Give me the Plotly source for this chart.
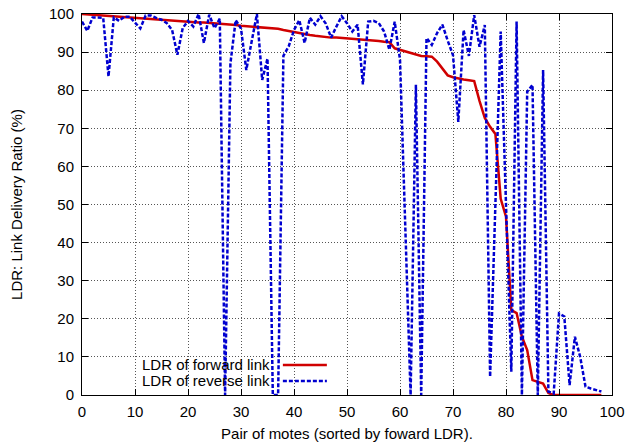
import plotly.graph_objects as go

# Pairs of motes (x) and their forward-link LDR (sorted, %)
pair_idx = list(range(0, 99))
fwd_ldr = [100, 99.9, 99.8, 99.7, 99.6, 99.5, 99.4, 99.3, 99.1, 99.0,
           98.9, 98.8, 98.7, 98.6, 98.5, 98.4, 98.3, 98.2, 98.1, 98.0,
           97.9, 97.9, 97.8, 97.8, 97.7, 97.6, 97.5, 97.4, 97.2, 97.1,
           96.9, 96.8, 96.7, 96.6, 96.5, 96.4, 96.3, 96.1, 95.8, 95.5,
           95.3, 95.0, 94.8, 94.5, 94.3, 94.1, 93.9, 93.8, 93.8, 93.7,
           93.6, 93.5, 93.4, 93.2, 93.1, 93.0, 92.9, 92.7, 92.6, 91.0,
           90.6, 90.1, 89.6, 89.2, 89.0, 88.9, 88.8, 87.5, 85.8, 83.9,
           83.4, 83.0, 82.8, 82.6, 82.4, 77.2, 72.7, 70.4, 68.5, 51.5,
           46.8, 22.3, 21.5, 15.3, 11.8, 3.9, 3.4, 3.0, 0.5, 0,
           0, 0, 0, 0, 0, 0, 0, 0, 0]

# Reverse-link LDR for the same pairs (%)
rev_ldr = [98.0, 95.6, 99.1, 99.1, 99.0, 83.6, 99.1, 98.2, 99.3, 99.3,
           97.6, 96.2, 99.6, 99.6, 99.0, 98.5, 97.6, 95.8, 89.3, 96.3,
           98.2, 96.7, 100, 92.4, 99.8, 96.3, 98.8, 0, 87.0, 98.4,
           96.2, 85.3, 92.7, 100, 82.7, 88.3, 0, 0, 89.0, 91.5,
           95.8, 98.4, 92.4, 99.0, 97.2, 99.4, 97.5, 93.8, 96.7, 99.4,
           97.6, 95.4, 97.2, 81.5, 98.0, 98.2, 97.6, 95.4, 90.6, 98.0,
           88.0, 44.0, 0, 81.4, 0, 93.7, 91.9, 95.0, 97.2, 93.0,
           89.2, 71.7, 95.8, 89.0, 99.7, 91.4, 97.1, 4.8, 50.0, 95.4,
           50.0, 6.1, 98.0, 0, 79.6, 81.4, 0, 85.3, 0.9, 0.4,
           21.4, 20.6, 2.6, 15.3, 10.0, 2.2, 1.7, 1.2, 0.9]

tick_vals = list(range(0, 101, 10))
legend_labels = ["LDR of forward link", "LDR of reverse link"]
x_title = "Pair of motes (sorted by foward LDR)."
y_title = "LDR: Link Delivery Ratio (%)"

RED = "#d00000"
BLUE = "#0000d0"
FONT = "Liberation Sans, Arial, Helvetica, sans-serif"
FS = 15

fig = go.Figure()
fig.add_trace(go.Scatter(x=pair_idx, y=fwd_ldr, mode="lines",
                         line=dict(color=RED, width=2.5),
                         name=legend_labels[0], showlegend=False))
fig.add_trace(go.Scatter(x=pair_idx, y=rev_ldr, mode="lines",
                         line=dict(color=BLUE, width=2.5, dash="4px,2px"),
                         name=legend_labels[1], showlegend=False))

axis_common = dict(
    showline=True, linecolor="black", linewidth=1, mirror="ticks",
    ticks="inside", ticklen=6, tickcolor="black",
    showgrid=True, gridcolor="#555555", griddash="1px,2px", gridwidth=1,
    zeroline=False, tickfont=dict(family=FONT, size=FS, color="black"),
    tickvals=tick_vals, automargin=False, ticklabeloverflow="allow",
)

fig.update_layout(
    width=630, height=442,
    margin=dict(l=82, r=18, t=14, b=47),
    paper_bgcolor="white", plot_bgcolor="white",
    font=dict(family=FONT, size=FS, color="black"),
    xaxis=dict(range=[0, 100], ticklabelstandoff=3,
               title=dict(text=x_title, standoff=10,
                          font=dict(family=FONT, size=FS)), **axis_common),
    yaxis=dict(range=[0, 100], ticklabelstandoff=4,
               title=dict(text=y_title, standoff=22,
                          font=dict(family=FONT, size=FS)), **axis_common),
    showlegend=False,
)

# Gnuplot-style key: text on the left, line sample on the right
key_rows = [(0.079, RED, "solid"), (0.037, BLUE, "4px,2px")]
for (yp, col, dash), label in zip(key_rows, legend_labels):
    fig.add_annotation(xref="paper", yref="paper", x=0.358, y=yp,
                       text=label, showarrow=False, xanchor="right",
                       yanchor="middle", font=dict(family=FONT, size=FS, color="black"))
    fig.add_shape(type="line", xref="paper", yref="paper",
                  x0=0.379, x1=0.462, y0=yp, y1=yp,
                  line=dict(color=col, width=2.5, dash=dash))

# Remove the browser's default 8px body margin so the figure fills the window
fig.write_html("out.html",
               config={"displayModeBar": False},
               post_script="document.body.style.margin='0';"
                           "document.body.style.overflow='hidden';")
